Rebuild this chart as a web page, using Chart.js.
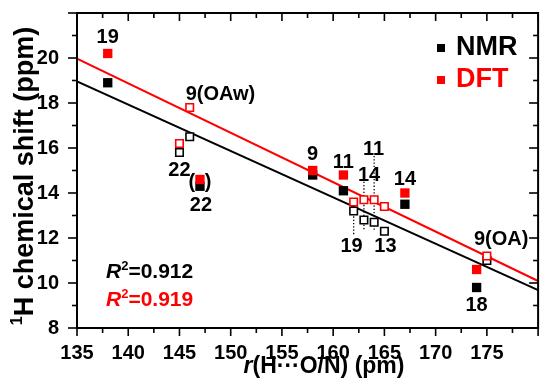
<!DOCTYPE html>
<html>
<head>
<meta charset="utf-8">
<script src="https://cdn.jsdelivr.net/npm/chart.js@4.4.1/dist/chart.umd.min.js"></script>
<style>
  html, body { margin: 0; padding: 0; background: #fff; }
  #wrap { width: 545px; height: 387px; }
</style>
</head>
<body>
<div id="wrap"><canvas id="chart" width="545" height="387"></canvas></div>
<script>
// filled squares (NMR measured vs DFT computed)
const xFilled = [138, 147, 158, 161, 167, 174];
const nmrFilled = [18.9, 14.3, 14.8, 14.1, 13.5, 9.8];
const dftFilled = [20.2, 14.6, 15.0, 14.8, 14.0, 10.6];
// open squares
const xOpen = [145, 146, 162, 163, 164, 165, 175];
const nmrOpen = [15.8, 16.5, 13.2, 12.8, 12.7, 12.3, 11.0];
const dftOpen = [16.2, 17.8, 13.6, 13.7, 13.7, 13.4, 11.2];
// linear fits
const fitX = [135, 180];
const nmrFit = [18.96, 9.68];
const dftFit = [19.97, 10.09];
// dotted guide lines in the crowded region
const dropX = [162, 163, 164];
const dropTop = [13.55, 14.5, 15.65];
const dropBottom = [12.15, 12.3, 12.3];
// point labels
const labelText = ["19", "9(OAw)", "22", "(", ")", "22", "9", "11", "14", "11", "14", "19", "13", "9(OA)", "18"];
const labelX = [138, 149, 145, 146.2, 147.8, 147.1, 158, 161, 163.5, 163.95, 167, 161.8, 165.1, 176.4, 174];
const labelY = [20.92, 18.39, 15.0, 14.45, 14.45, 13.45, 15.72, 15.35, 14.79, 15.94, 14.6, 11.63, 11.63, 11.93, 9.0];
// axis ticks
const xMin = 135, xMax = 180, xStep = 2.5;
const yMin = 8, yMax = 22, yStep = 1;
const r2Nmr = "0.912";
const r2Dft = "0.919";

const FONT = "'Liberation Sans', Arial, sans-serif";
const RED = "#ff0000";

const pts = (xs, ys) => xs.map((x, i) => ({ x: x, y: ys[i] }));

const datasets = [
  { data: pts(xOpen, dftOpen), pointStyle: "rect", pointRadius: 5.3, borderWidth: 1.6,
    borderColor: RED, backgroundColor: "#fff", showLine: false },
  { data: pts(xOpen, nmrOpen), pointStyle: "rect", pointRadius: 5.3, borderWidth: 1.6,
    borderColor: "#000", backgroundColor: "#fff", showLine: false },
  { data: pts(xFilled, dftFilled), pointStyle: "rect", pointRadius: 6.6, borderWidth: 0,
    borderColor: RED, backgroundColor: RED, showLine: false },
  { data: pts(xFilled, nmrFilled), pointStyle: "rect", pointRadius: 6.6, borderWidth: 0,
    borderColor: "#000", backgroundColor: "#000", showLine: false },
  { data: pts(fitX, dftFit), showLine: true, borderColor: RED, borderWidth: 2, pointRadius: 0 },
  { data: pts(fitX, nmrFit), showLine: true, borderColor: "#000", borderWidth: 2, pointRadius: 0 },
];
dropX.forEach((x, i) => {
  datasets.push({
    data: [{ x: x, y: dropTop[i] }, { x: x, y: dropBottom[i] }],
    showLine: true, borderColor: "#000", borderWidth: 1.3, borderDash: [1.3, 2], pointRadius: 0,
  });
});

function line(ctx, x1, y1, x2, y2) {
  ctx.beginPath();
  ctx.moveTo(x1, y1);
  ctx.lineTo(x2, y2);
  ctx.stroke();
}

const decor = {
  id: "decor",
  afterDatasetsDraw(chart) {
    const { ctx, scales: { x, y } } = chart;
    ctx.save();
    ctx.fillStyle = "#000";
    ctx.font = "bold 20px " + FONT;
    ctx.textAlign = "center";
    ctx.textBaseline = "middle";
    labelText.forEach((t, i) => {
      ctx.fillText(t, x.getPixelForValue(labelX[i]), y.getPixelForValue(labelY[i]));
    });
    ctx.restore();
  },
  afterDraw(chart) {
    const { ctx, chartArea: a, scales: { x, y } } = chart;
    ctx.save();
    ctx.strokeStyle = "#000";
    ctx.lineWidth = 2;
    ctx.strokeRect(a.left, a.top, a.right - a.left, a.bottom - a.top);
    ctx.lineWidth = 1.6;
    x.ticks.forEach((t) => {
      const px = x.getPixelForValue(t.value);
      const len = t.value % 5 === 0 ? 8 : 5;
      line(ctx, px, a.bottom, px, a.bottom + len);
      line(ctx, px, a.top, px, a.top + len);
    });
    y.ticks.forEach((t) => {
      const py = y.getPixelForValue(t.value);
      const len = t.value % 2 === 0 ? 9 : 5;
      line(ctx, a.left - len, py, a.left, py);
      line(ctx, a.right - len, py, a.right, py);
    });

    // legend
    ctx.textBaseline = "middle";
    ctx.textAlign = "left";
    ctx.font = "bold 27px " + FONT;
    ctx.fillStyle = "#000";
    ctx.fillRect(437, 44, 8, 8);
    ctx.fillText("NMR", 456, 48);
    ctx.fillStyle = RED;
    ctx.fillRect(437, 76, 8, 8);
    ctx.fillText("DFT", 456, 80);

    // R^2 values
    const r2 = (val, color, yy) => {
      let xx = 106;
      ctx.fillStyle = color;
      ctx.textBaseline = "alphabetic";
      ctx.font = "italic bold 21px " + FONT;
      ctx.fillText("R", xx, yy);
      xx += ctx.measureText("R").width;
      ctx.font = "bold 13px " + FONT;
      ctx.fillText("2", xx, yy - 8);
      xx += ctx.measureText("2").width;
      ctx.font = "bold 21px " + FONT;
      ctx.fillText("=" + val, xx, yy);
    };
    r2(r2Nmr, "#000", 278);
    r2(r2Dft, RED, 306);

    // x title
    ctx.fillStyle = "#000";
    ctx.textBaseline = "alphabetic";
    ctx.font = "italic bold 23px " + FONT;
    const rW = ctx.measureText("r").width;
    ctx.font = "bold 23px " + FONT;
    const rest = "(H\u00B7\u00B7\u00B7O/N) (pm)";
    const restW = ctx.measureText(rest).width;
    let tx = 324 - (rW + restW) / 2;
    ctx.font = "italic bold 23px " + FONT;
    ctx.fillText("r", tx, 373);
    ctx.font = "bold 23px " + FONT;
    ctx.fillText(rest, tx + rW, 373);

    // y title
    ctx.translate(33, 176);
    ctx.rotate(-Math.PI / 2);
    ctx.font = "bold 27px " + FONT;
    const main = "H chemical shift (ppm)";
    const mW = ctx.measureText(main).width;
    ctx.font = "bold 16px " + FONT;
    const sW = ctx.measureText("1").width;
    let sx = -(mW + sW) / 2;
    ctx.fillText("1", sx, -11);
    ctx.font = "bold 27px " + FONT;
    ctx.fillText(main, sx + sW, 0);
    ctx.restore();
  },
};

new Chart(document.getElementById("chart"), {
  type: "scatter",
  data: { datasets: datasets },
  plugins: [decor],
  options: {
    responsive: false,
    animation: false,
    devicePixelRatio: 1,
    layout: { padding: { top: 13, right: 1, left: 0, bottom: 0 } },
    plugins: { legend: { display: false }, tooltip: { enabled: false } },
    scales: {
      x: {
        type: "linear",
        min: xMin,
        max: xMax,
        grid: { display: false },
        border: { display: false },
        afterFit: (s) => { s.height = 59; s.paddingLeft = 0; s.paddingRight = 0; },
        ticks: {
          stepSize: xStep,
          autoSkip: false,
          maxRotation: 0,
          padding: 5,
          color: "#000",
          font: { family: FONT, size: 20, weight: "bold" },
          callback: (v) => (v % 5 === 0 && v < xMax ? v : ""),
        },
      },
      y: {
        min: yMin,
        max: yMax,
        grid: { display: false },
        border: { display: false },
        afterFit: (s) => { s.width = 77; s.paddingTop = 0; s.paddingBottom = 0; },
        ticks: {
          stepSize: yStep,
          autoSkip: false,
          padding: 10,
          color: "#000",
          font: { family: FONT, size: 20, weight: "bold" },
          callback: (v) => (v % 2 === 0 && v <= 20 ? v : ""),
        },
      },
    },
  },
});
</script>
</body>
</html>
